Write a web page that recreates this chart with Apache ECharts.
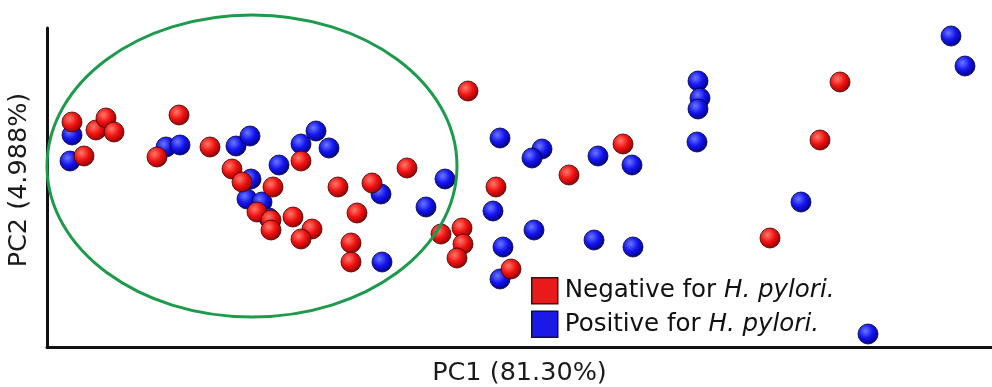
<!DOCTYPE html>
<html><head><meta charset="utf-8">
<script src="https://cdn.jsdelivr.net/npm/echarts@6/dist/echarts.min.js"></script>
<style>html,body{margin:0;padding:0;background:#fff}#c{width:992px;height:387px}</style>
</head><body><div id="c"></div>
<script>
// PC1 / PC2 scores (arbitrary units)
const negativePC1 = [25,49,59,67,37,132,110,163,185,195,226,254,210,224,224,246,265,254,291,325,310,304,304,360,421,394,415,416,410,449,576,522,793,464,773,723];
const negativePC2 = [225,217,229,215,191,232,190,200,178,165,160,186,135,127,117,130,118,108,160,164,134,104,85,179,256,113,119,103,89,160,203,172,265,78,207,109];
const positivePC1 = [25,23,119,133,189,203,254,269,282,232,204,200,215,222,334,398,379,335,453,495,485,551,585,651,653,651,650,904,918,446,754,487,456,547,586,453,821];
const positivePC2 = [212,186,200,202,201,211,203,216,199,182,168,148,145,129,153,168,140,85,209,198,189,191,182,266,249,238,205,311,281,136,145,117,100,107,100,68,13];
const seriesNames = ['Negative for H. pylori.', 'Positive for H. pylori.'];
const ellipse = {cx: 205, cy: 181, rx: 205, ry: 151};
const axisNames = ['PC1 (81.30%)', 'PC2 (4.988%)'];

const zip = (a, b) => a.map((v, i) => [v, b[i]]);
const FONT = '"DejaVu Sans", sans-serif';
function sphere(c0, c1, c2) {
  return {type: 'radial', x: 0.38, y: 0.35, r: 0.7,
    colorStops: [{offset: 0, color: c0}, {offset: 0.5, color: c1}, {offset: 1, color: c2}]};
}
const chart = echarts.init(document.getElementById('c'), null, {renderer: 'canvas'});
const option = {
  animation: false,
  grid: {left: 47, right: 0, top: 28, bottom: 40, containLabel: false, outerBoundsMode: 'none'},
  xAxis: {type: 'value', min: 0, max: 945, name: axisNames[0], nameLocation: 'middle', nameGap: 13,
    nameTextStyle: {fontFamily: FONT, fontSize: 25.5, color: '#1a1a1a', verticalAlign: 'top'},
    axisLine: {show: true, onZero: false, lineStyle: {color: '#111', width: 3}},
    axisTick: {show: false}, axisLabel: {show: false}, splitLine: {show: false}},
  yAxis: {type: 'value', min: 0, max: 319, name: axisNames[1], nameLocation: 'middle', nameGap: 15,
    nameTextStyle: {fontFamily: FONT, fontSize: 25.5, color: '#1a1a1a', padding: [0, 0, 0, 15]},
    axisLine: {show: true, onZero: false, lineStyle: {color: '#111', width: 3}},
    axisTick: {show: false}, axisLabel: {show: false}, splitLine: {show: false}},
  legend: {
    orient: 'vertical', left: 531, top: 277, padding: 0, itemWidth: 26, itemHeight: 26, itemGap: 6,
    icon: 'rect',
    data: [
      {name: seriesNames[0], itemStyle: {color: '#ea1a1a', borderColor: '#3a1010', borderWidth: 1.5}},
      {name: seriesNames[1], itemStyle: {color: '#1a1ae8', borderColor: '#10103a', borderWidth: 1.5}}
    ],
    formatter: function (n) {
      const p = n.split(' for ');
      return '{a|' + p[0] + ' for }{b|' + p[1] + '}';
    },
    textStyle: {fontFamily: FONT, fontSize: 24.5, color: '#111', padding: [0, 0, 0, 2],
      rich: {a: {fontFamily: FONT, fontSize: 24.5, color: '#111'},
             b: {fontFamily: FONT, fontSize: 24.5, color: '#111', fontStyle: 'italic'}}}
  },
  series: [
    {name: seriesNames[1], type: 'scatter', symbolSize: 20, data: zip(positivePC1, positivePC2),
      itemStyle: {color: sphere('#6a78ff', '#1414f0', '#00007a'), borderColor: '#000040', borderWidth: 0.8, opacity: 1}},
    {name: seriesNames[0], type: 'scatter', symbolSize: 20, data: zip(negativePC1, negativePC2),
      itemStyle: {color: sphere('#ff7a6a', '#f01212', '#8a0000'), borderColor: '#400000', borderWidth: 0.8, opacity: 1}}
  ]
};
chart.setOption(option);
const c = chart.convertToPixel({gridIndex: 0}, [ellipse.cx, ellipse.cy]);
const e = chart.convertToPixel({gridIndex: 0}, [ellipse.cx + ellipse.rx, ellipse.cy + ellipse.ry]);
chart.setOption({graphic: [{type: 'ellipse', z: 100, silent: true,
  shape: {cx: c[0], cy: c[1], rx: Math.abs(e[0] - c[0]), ry: Math.abs(e[1] - c[1])},
  style: {fill: 'none', stroke: '#1d9a4c', lineWidth: 3}}]});
</script></body></html>
